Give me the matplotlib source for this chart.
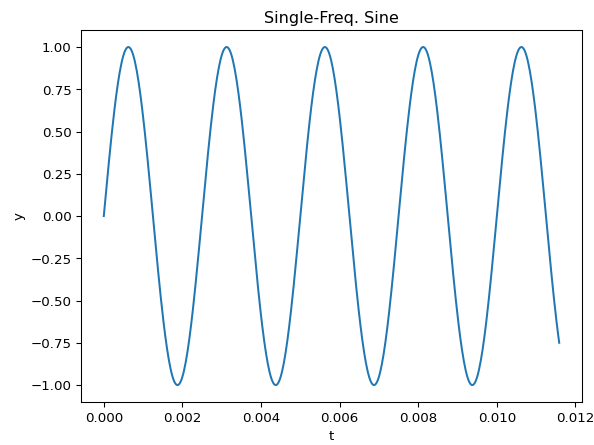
import numpy as np
import matplotlib
matplotlib.use("Agg")
import matplotlib.pyplot as plt

# Signal parameters (400 Hz tone, 512 samples at 44.1 kHz)
frequency_hz = 400.0
sample_rate_hz = 44100.0
n_samples = 512
title = "Single-Freq. Sine"
x_label = "t"
y_label = "y"

t = np.arange(n_samples) / sample_rate_hz
y = np.sin(2 * np.pi * frequency_hz * t)

fig, ax = plt.subplots(figsize=(594 / 96, 445.4 / 96), dpi=96)
fig.subplots_adjust(left=0.1364, right=0.9798, bottom=0.0966, top=0.9315)
ax.plot(t, y)
ax.set_title(title)
ax.set_xlabel(x_label)
ax.set_ylabel(y_label)
fig.savefig("out.png")
